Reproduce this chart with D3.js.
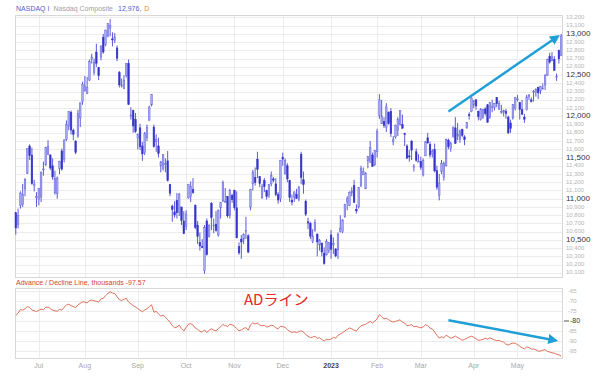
<!DOCTYPE html>
<html>
<head>
<meta charset="utf-8">
<script src="https://cdn.jsdelivr.net/npm/d3@7"></script>
<style>
  body { margin: 0; background: #fff; }
  svg { display: block; font-family: "Liberation Sans", Arial, sans-serif; }
</style>
</head>
<body>
<div id="chart"></div>
<script>
// trading days, Jun 16 2022 .. May 26 2023
const dates = [
  '2022-06-16','2022-06-17','2022-06-21','2022-06-22','2022-06-23','2022-06-24','2022-06-27','2022-06-28','2022-06-29','2022-06-30',
  '2022-07-01','2022-07-05','2022-07-06','2022-07-07','2022-07-08','2022-07-11','2022-07-12','2022-07-13','2022-07-14','2022-07-15',
  '2022-07-18','2022-07-19','2022-07-20','2022-07-21','2022-07-22','2022-07-25','2022-07-26','2022-07-27','2022-07-28','2022-07-29',
  '2022-08-01','2022-08-02','2022-08-03','2022-08-04','2022-08-05','2022-08-08','2022-08-09','2022-08-10','2022-08-11','2022-08-12',
  '2022-08-15','2022-08-16','2022-08-17','2022-08-18','2022-08-19','2022-08-22','2022-08-23','2022-08-24','2022-08-25','2022-08-26',
  '2022-08-29','2022-08-30','2022-08-31',
  '2022-09-01','2022-09-02','2022-09-06','2022-09-07','2022-09-08','2022-09-09','2022-09-12','2022-09-13','2022-09-14','2022-09-15',
  '2022-09-16','2022-09-19','2022-09-20','2022-09-21','2022-09-22','2022-09-23','2022-09-26','2022-09-27','2022-09-28','2022-09-29','2022-09-30',
  '2022-10-03','2022-10-04','2022-10-05','2022-10-06','2022-10-07','2022-10-10','2022-10-11','2022-10-12','2022-10-13','2022-10-14',
  '2022-10-17','2022-10-18','2022-10-19','2022-10-20','2022-10-21','2022-10-24','2022-10-25','2022-10-26','2022-10-27','2022-10-28','2022-10-31',
  '2022-11-01','2022-11-02','2022-11-03','2022-11-04','2022-11-07','2022-11-08','2022-11-09','2022-11-10','2022-11-11','2022-11-14',
  '2022-11-15','2022-11-16','2022-11-17','2022-11-18','2022-11-21','2022-11-22','2022-11-23','2022-11-25','2022-11-28','2022-11-29','2022-11-30',
  '2022-12-01','2022-12-02','2022-12-05','2022-12-06','2022-12-07','2022-12-08','2022-12-09','2022-12-12','2022-12-13','2022-12-14',
  '2022-12-15','2022-12-16','2022-12-19','2022-12-20','2022-12-21','2022-12-22','2022-12-23','2022-12-27','2022-12-28','2022-12-29','2022-12-30',
  '2023-01-03','2023-01-04','2023-01-05','2023-01-06','2023-01-09','2023-01-10','2023-01-11','2023-01-12','2023-01-13','2023-01-17',
  '2023-01-18','2023-01-19','2023-01-20','2023-01-23','2023-01-24','2023-01-25','2023-01-26','2023-01-27','2023-01-30','2023-01-31',
  '2023-02-01','2023-02-02','2023-02-03','2023-02-06','2023-02-07','2023-02-08','2023-02-09','2023-02-10','2023-02-13','2023-02-14',
  '2023-02-15','2023-02-16','2023-02-17','2023-02-21','2023-02-22','2023-02-23','2023-02-24','2023-02-27','2023-02-28',
  '2023-03-01','2023-03-02','2023-03-03','2023-03-06','2023-03-07','2023-03-08','2023-03-09','2023-03-10','2023-03-13','2023-03-14',
  '2023-03-15','2023-03-16','2023-03-17','2023-03-20','2023-03-21','2023-03-22','2023-03-23','2023-03-24','2023-03-27','2023-03-28',
  '2023-03-29','2023-03-30','2023-03-31',
  '2023-04-03','2023-04-04','2023-04-05','2023-04-06','2023-04-10','2023-04-11','2023-04-12','2023-04-13','2023-04-14','2023-04-17',
  '2023-04-18','2023-04-19','2023-04-20','2023-04-21','2023-04-24','2023-04-25','2023-04-26','2023-04-27','2023-04-28',
  '2023-05-01','2023-05-02','2023-05-03','2023-05-04','2023-05-05','2023-05-08','2023-05-09','2023-05-10','2023-05-11','2023-05-12',
  '2023-05-15','2023-05-16','2023-05-17','2023-05-18','2023-05-19','2023-05-22','2023-05-23','2023-05-24','2023-05-25','2023-05-26'
]

const open = [
  10830,10690,10920,10930,11120,11310,11640,11530,11160,11010,
  10990,11020,11350,11410,11540,11530,11400,11070,11060,11370,11580,11480,11720,11880,12050,11830,11700,11760,11980,12180,
  12310,12280,12440,12690,12530,12780,12590,12720,12960,12870,12970,13070,12940,12920,12830,12530,12380,12340,12500,12640,12000,12070,11960,
  11730,11860,11640,11560,11740,11950,12140,11870,11690,11640,11400,11370,11420,11460,11170,10910,10840,10980,10830,10900,10730,
  10660,11010,11030,11110,10920,10680,10470,10420,10130,10730,10540,10940,10670,10690,10560,10890,10970,10960,11030,10800,11040,
  11100,10890,10420,10510,10510,10600,10550,10900,11180,11260,11480,11270,11010,11220,11100,11040,11180,11240,11180,11050,11000,
  11500,11310,11400,11220,10980,11020,11050,10990,11540,11230,10970,10720,10700,10480,10620,10570,10440,10460,10340,10320,10370,
  10560,10440,10390,10380,10600,10600,10780,10960,10920,11070,11160,10870,10900,11160,11290,11120,11460,11440,11530,11410,
  11570,12010,11910,11940,11870,12050,12060,11690,11750,11830,11900,11900,11790,11640,11520,11700,11390,11570,11450,
  11450,11290,11520,11740,11660,11550,11600,11340,11040,11330,11260,11400,11710,11610,11760,11860,11760,11720,11840,11750,11860,12020,12060,
  12140,12200,12060,11960,11990,12090,12140,11990,12120,12110,12230,12080,12050,12050,12060,11990,11920,11980,12100,
  12210,12170,12080,11990,12080,12240,12200,12300,12290,12350,12310,12330,12380,12500,12730,12680,12690,12470,12800,12740
]
const high = [
  10830,10880,11090,11180,11250,11610,11660,11620,11230,11080,
  11130,11330,11450,11630,11710,11540,11490,11340,11270,11460,11610,11720,11950,12060,12070,11850,11710,12080,12170,12420,
  12490,12480,12690,12760,12700,12880,12600,12860,13000,13050,13130,13180,13020,13010,12860,12550,12460,12500,12640,12690,12110,12080,12040,
  11790,11910,11690,11810,11900,12130,12270,11900,11780,11740,11460,11540,11490,11580,11180,10930,10970,11070,11070,10900,10850,
  10860,11180,11210,11250,10930,10730,10590,10510,10680,10760,10690,10960,10760,10850,10870,10960,11220,11130,11030,11120,11060,
  11110,11090,10470,10560,10580,10780,10570,11120,11350,11380,11570,11270,11180,11250,11110,11180,11330,11260,11250,11080,11470,
  11560,11490,11430,11230,11050,11090,11120,11150,11570,11330,10990,10770,10720,10630,10750,10580,10510,10470,10410,10510,10470,
  10620,10530,10400,10590,10800,10750,10940,11030,11090,11140,11230,10930,11140,11400,11380,11320,11520,11700,11560,11590,
  11850,12270,12200,11990,12160,12060,12100,11760,11900,11990,12070,12020,11800,11660,11590,11710,11420,11610,11540,
  11510,11490,11700,11800,11690,11600,11670,11400,11300,11470,11450,11730,11730,11690,11880,11990,11920,11840,11850,11770,11930,12050,12230,
  12200,12210,12070,12100,12090,12110,12150,12170,12200,12160,12230,12190,12140,12080,12090,12010,11960,12150,12230,
  12260,12170,12200,12030,12260,12270,12230,12320,12340,12360,12370,12400,12510,12700,12770,12780,12730,12520,12810,13000
]
const low = [
  10565,10640,10880,10900,11030,11300,11470,11170,11090,10900,
  10920,10960,11280,11400,11530,11350,11230,11050,11000,11300,11340,11440,11700,11830,11780,11710,11540,11740,11870,12140,
  12300,12270,12430,12640,12500,12600,12440,12680,12760,12850,12960,12970,12850,12890,12670,12350,12350,12330,12470,12140,11960,11800,11800,
  11600,11590,11460,11530,11700,11950,12120,11620,11570,11500,11320,11340,11320,11210,11030,10720,10770,10760,10790,10680,10570,
  10620,11000,10960,11060,10630,10450,10370,10400,10090,10310,10530,10620,10580,10600,10540,10760,10960,10950,10770,10760,10950,
  10860,10520,10320,10270,10450,10510,10340,10860,11100,11160,11250,11140,11000,11080,10990,11010,11150,11200,11030,10940,10960,
  11400,11290,11200,10960,10920,10960,11000,10970,11180,11060,10790,10630,10510,10460,10600,10300,10370,10300,10200,10310,10340,
  10270,10330,10290,10270,10590,10580,10770,10860,10910,11030,10950,10820,10880,11140,11290,11120,11370,11440,11390,11400,
  11500,11970,11910,11860,11810,11900,11750,11650,11730,11760,11890,11850,11640,11490,11450,11470,11330,11450,11450,
  11350,11270,11520,11670,11500,11500,11320,11110,10980,11300,11220,11390,11600,11570,11740,11670,11710,11680,11750,11650,11850,11960,12050,
  12100,12080,11950,11950,11970,12010,11920,11970,12050,12070,12110,12080,12030,12000,11970,11790,11800,11960,12070,
  12180,11960,12020,11920,12070,12200,12170,12180,12240,12210,12270,12330,12320,12490,12640,12670,12550,12430,12640,12730
]
const close = [
  10646,10798,11069,11053,11232,11608,11525,11182,11178,11029,
  11128,11322,11362,11621,11635,11373,11265,11248,11251,11452,11360,11713,11898,12060,11834,11783,11563,12032,12163,12391,
  12369,12349,12668,12721,12658,12644,12494,12855,12780,13047,13128,13103,12938,12965,12705,12382,12381,12432,12639,12142,12018,11883,11816,
  11785,11631,11545,11792,11862,12112,12266,11634,11720,11552,11448,11535,11425,11220,11067,10868,10803,10830,11052,10738,10576,
  10815,11176,11149,11073,10652,10542,10426,10417,10649,10321,10676,10772,10681,10615,10860,10953,11199,10971,10793,11102,10988,
  10891,10525,10343,10475,10565,10616,10353,11114,11323,11196,11358,11184,11145,11146,11025,11174,11285,11226,11050,10984,11468,
  11482,11462,11240,11015,10959,11082,11005,11144,11257,11171,10811,10705,10546,10547,10709,10476,10498,10353,10213,10478,10466,
  10387,10459,10305,10569,10636,10743,10932,11001,11079,11095,10957,10852,11140,11364,11334,11313,11512,11622,11394,11585,
  11816,12201,12007,11887,12114,11911,11790,11718,11892,11960,12071,11856,11787,11492,11507,11590,11395,11467,11456,
  11379,11463,11689,11676,11530,11576,11338,11139,11189,11428,11434,11717,11631,11676,11860,11670,11787,11824,11769,11716,11926,12013,12222,
  12189,12126,11997,12088,12084,12032,11929,12166,12123,12158,12153,12157,12060,12072,12037,11799,11854,12142,12227,
  12213,12081,12025,11966,12235,12257,12180,12306,12329,12285,12365,12343,12501,12689,12658,12721,12560,12484,12698,12976
]

// Advance / Decline line, thousands
const adLine = [
  -77.2,-76.1,-74.3,-74.6,-73.9,-72.8,-73.2,-74.5,-74.9,-75.3,
  -74.6,-74.1,-74.3,-73.2,-73.0,-73.8,-74.6,-74.9,-75.1,-74.2,-74.6,-73.1,-72.0,-71.6,-72.3,-72.8,-73.3,-71.9,-71.2,-70.4,
  -70.6,-70.9,-69.8,-69.5,-69.9,-70.1,-70.6,-68.9,-68.7,-67.3,-66.2,-65.4,-66.0,-66.3,-67.8,-69.4,-69.7,-69.2,-68.6,-70.5,-71.4,-72.3,-73.0,
  -73.8,-74.6,-75.4,-74.5,-73.9,-72.8,-71.9,-75.6,-75.2,-76.4,-77.5,-77.1,-78.0,-79.4,-80.6,-82.3,-83.4,-83.0,-82.1,-83.8,-85.0,
  -83.2,-81.6,-81.3,-82.0,-83.5,-84.2,-85.1,-85.6,-84.4,-85.8,-84.6,-83.9,-84.5,-85.0,-83.8,-82.9,-81.7,-82.3,-82.8,-81.6,-81.9,
  -82.6,-83.8,-84.9,-84.5,-83.7,-83.3,-84.6,-81.9,-80.9,-81.5,-81.0,-82.0,-82.4,-82.2,-83.0,-82.7,-82.1,-82.4,-83.4,-83.9,-82.6,
  -82.9,-83.1,-84.3,-85.2,-85.7,-85.4,-85.8,-85.3,-84.9,-85.5,-86.8,-87.6,-88.3,-88.1,-87.6,-88.7,-88.4,-89.3,-90.0,-89.1,-89.4,
  -89.0,-88.2,-88.6,-87.1,-86.5,-85.8,-85.0,-84.2,-83.5,-83.9,-84.6,-85.0,-83.6,-82.4,-82.0,-81.7,-80.9,-80.2,-81.0,-80.1,
  -78.9,-76.8,-77.9,-79.0,-78.6,-79.3,-80.1,-80.5,-80.2,-79.8,-79.4,-80.6,-81.0,-82.4,-82.2,-81.8,-82.9,-82.6,-83.1,
  -83.4,-83.0,-81.9,-82.3,-83.6,-84.0,-85.5,-87.2,-88.5,-87.9,-88.4,-87.1,-87.8,-88.6,-88.2,-87.5,-88.3,-88.9,-89.6,-89.2,-88.7,-88.0,-87.6,
  -88.1,-88.9,-89.7,-89.5,-89.2,-88.6,-89.1,-88.4,-88.9,-89.5,-89.8,-89.6,-90.3,-90.5,-91.6,-92.0,-91.4,-91.0,-91.2,
  -91.8,-92.6,-93.4,-93.9,-93.0,-93.3,-94.1,-94.0,-94.4,-95.1,-95.0,-94.6,-94.3,-95.2,-95.5,-95.9,-96.1,-96.6,-96.9,-97.57
]

const priceTicks = d3.range(10100, 13201, 100)
const adTicks = [-65, -70, -75, -80, -85, -90, -95]
const monthLabels = ['Jul', 'Aug', 'Sep', 'Oct', 'Nov', 'Dec', '2023', 'Feb', 'Mar', 'Apr', 'May']

// trend arrows, in data units: [dateIndex, value]
const priceArrow = [[188, 12060], [235, 12960]]
const adArrow = [[188, -79.6], [234, -89.6]]

const W = 600, H = 378
const upper = { left: 15, right: 562, top: 15, bottom: 277 }
const lower = { left: 15, right: 562, top: 288, bottom: 358 }
const arrowColor = '#1e9fd6'

const svg = d3.select('#chart').append('svg')
  .attr('width', W).attr('height', H)

const x = d3.scaleBand()
  .domain(dates)
  .range([upper.left, upper.right])
  .paddingInner(0.3)
const xc = d => x(d) + x.bandwidth() / 2

const y = d3.scaleLinear().domain([10050, 13230]).range([upper.bottom, upper.top])
const yAd = d3.scaleLinear().domain([-63.5, -98.5]).range([lower.top, lower.bottom])

// month starts
const monthStarts = dates.filter((d, i) => i > 0 && d.slice(5, 7) !== dates[i - 1].slice(5, 7))

// ---- upper panel ----
svg.append('g').selectAll('line')
  .data(priceTicks)
  .enter().append('line')
  .attr('x1', upper.left).attr('x2', upper.right)
  .attr('y1', d => Math.round(y(d)) + 0.5).attr('y2', d => Math.round(y(d)) + 0.5)
  .attr('stroke', '#ececec')

svg.append('g').selectAll('line')
  .data(monthStarts)
  .enter().append('line')
  .attr('x1', d => Math.round(xc(d)) + 0.5).attr('x2', d => Math.round(xc(d)) + 0.5)
  .attr('y1', upper.top).attr('y2', upper.bottom)
  .attr('stroke', '#ececec')

svg.append('rect')
  .attr('x', upper.left + 0.5).attr('y', upper.top + 0.5)
  .attr('width', upper.right - upper.left).attr('height', upper.bottom - upper.top)
  .attr('fill', 'none').attr('stroke', '#d8d8d8')

svg.append('g').selectAll('text')
  .data(priceTicks)
  .enter().append('text')
  .attr('x', upper.right + 4)
  .attr('y', d => y(d))
  .attr('dominant-baseline', 'middle')
  .attr('font-size', d => d % 500 === 0 ? 8 : 6)
  .attr('fill', d => d % 500 === 0 ? '#333' : '#b4b4b4')
  .text(d => d3.format(',')(d))

// candles
const candles = svg.append('g').selectAll('g')
  .data(dates.map((d, i) => ({ d, o: open[i], h: high[i], l: low[i], c: close[i] })))
  .enter().append('g')

candles.append('line')
  .attr('x1', d => xc(d.d)).attr('x2', d => xc(d.d))
  .attr('y1', d => y(d.h)).attr('y2', d => y(d.l))
  .attr('stroke', '#4848d4').attr('stroke-width', 0.9)

candles.append('rect')
  .attr('x', d => x(d.d))
  .attr('width', x.bandwidth())
  .attr('y', d => y(Math.max(d.o, d.c)))
  .attr('height', d => Math.max(1, Math.abs(y(d.o) - y(d.c))))
  .attr('fill', d => d.c >= d.o ? '#a9a9f2' : '#3535cc')
  .attr('stroke', d => d.c >= d.o ? '#6a6ae0' : '#3535cc')
  .attr('stroke-width', 0.5)

// header
const header = svg.append('text')
  .attr('x', 16).attr('y', 11)
  .attr('font-size', 7)
header.append('tspan').attr('fill', '#5a5acc').text('NASDAQ I')
header.append('tspan').attr('dx', 4).attr('fill', '#a0a0a0').text('Nasdaq Composite')
header.append('tspan').attr('dx', 5).attr('fill', '#5a5acc').text('12,976,')
header.append('tspan').attr('dx', 3).attr('fill', '#f08a3c').text('D')

// ---- lower panel ----
svg.append('g').selectAll('line')
  .data(adTicks)
  .enter().append('line')
  .attr('x1', lower.left).attr('x2', lower.right)
  .attr('y1', d => Math.round(yAd(d)) + 0.5).attr('y2', d => Math.round(yAd(d)) + 0.5)
  .attr('stroke', '#ececec')

svg.append('g').selectAll('line')
  .data(monthStarts)
  .enter().append('line')
  .attr('x1', d => Math.round(xc(d)) + 0.5).attr('x2', d => Math.round(xc(d)) + 0.5)
  .attr('y1', lower.top).attr('y2', lower.bottom)
  .attr('stroke', '#ececec')

svg.append('rect')
  .attr('x', lower.left + 0.5).attr('y', lower.top + 0.5)
  .attr('width', lower.right - lower.left).attr('height', lower.bottom - lower.top)
  .attr('fill', 'none').attr('stroke', '#d8d8d8')

svg.append('g').selectAll('text')
  .data(adTicks)
  .enter().append('text')
  .attr('x', d => d === -80 ? lower.right + 8 : lower.right + 6)
  .attr('y', d => yAd(d))
  .attr('dominant-baseline', 'middle')
  .attr('font-size', d => d === -80 ? 7 : 6)
  .attr('fill', d => d === -80 ? '#333' : '#b4b4b4')
  .text(d => d)

svg.append('line')
  .attr('x1', lower.right + 2).attr('x2', lower.right + 7)
  .attr('y1', yAd(-80)).attr('y2', yAd(-80))
  .attr('stroke', '#555')

svg.append('path')
  .datum(adLine)
  .attr('fill', 'none')
  .attr('stroke', '#e0705a')
  .attr('stroke-width', 1)
  .attr('d', d3.line().x((d, i) => xc(dates[i])).y(d => yAd(d)))

svg.append('text')
  .attr('x', 16).attr('y', 285)
  .attr('font-size', 7)
  .attr('fill', '#d2432c')
  .text('Advance / Decline Line, thousands -97.57')

svg.append('text')
  .attr('x', 244).attr('y', 305)
  .attr('font-family', '"Noto Sans CJK JP", sans-serif')
  .attr('font-size', 15)
  .attr('fill', '#e8281e')
  .text('ADライン')

// month labels
svg.append('g').selectAll('text')
  .data(monthStarts)
  .enter().append('text')
  .attr('x', d => xc(d))
  .attr('y', 368)
  .attr('text-anchor', 'middle')
  .attr('font-size', 7)
  .attr('font-weight', (d, i) => monthLabels[i] === '2023' ? 'bold' : 'normal')
  .attr('fill', (d, i) => monthLabels[i] === '2023' ? '#444' : '#a8a8a8')
  .text((d, i) => monthLabels[i])

// trend arrows
svg.append('defs').append('marker')
  .attr('id', 'head')
  .attr('viewBox', '0 0 10 10')
  .attr('refX', 6).attr('refY', 5)
  .attr('markerWidth', 4.2).attr('markerHeight', 4.2)
  .attr('orient', 'auto')
  .append('path').attr('d', 'M0,0 L10,5 L0,10 Z').attr('fill', arrowColor)

function drawArrow(pts, ys) {
  svg.append('line')
    .attr('x1', xc(dates[pts[0][0]])).attr('y1', ys(pts[0][1]))
    .attr('x2', xc(dates[pts[1][0]])).attr('y2', ys(pts[1][1]))
    .attr('stroke', arrowColor)
    .attr('stroke-width', 2.4)
    .attr('marker-end', 'url(#head)')
}
drawArrow(priceArrow, y)
drawArrow(adArrow, yAd)
</script>
</body>
</html>
